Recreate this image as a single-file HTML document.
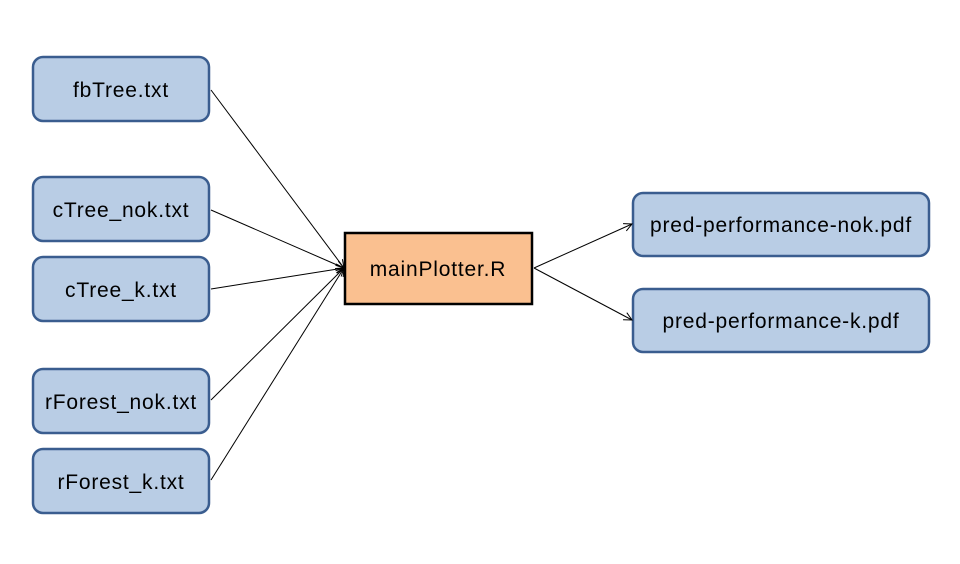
<!DOCTYPE html>
<html><head><style>body{margin:0;background:#fff}svg{display:block}</style></head><body>
<svg width="960" height="564" xmlns="http://www.w3.org/2000/svg" font-family="Liberation Sans, sans-serif" font-size="21" letter-spacing="0.8">
<defs><marker id="a" markerWidth="10" markerHeight="10" refX="9" refY="5" orient="auto" markerUnits="userSpaceOnUse"><path d="M1,1 L9,5 L1,9" fill="none" stroke="#000" stroke-width="1"/></marker></defs>
<g fill="#b9cde5" stroke="#3a5d8f" stroke-width="2.5">
<rect x="33" y="57" width="176" height="64" rx="10"/>
<rect x="33" y="177" width="176" height="64" rx="10"/>
<rect x="33" y="257" width="176" height="64" rx="10"/>
<rect x="33" y="369" width="176" height="64" rx="10"/>
<rect x="33" y="449" width="176" height="64" rx="10"/>
<rect x="633" y="193" width="296" height="63" rx="10"/>
<rect x="633" y="289" width="296" height="63" rx="10"/>
</g>
<rect x="345" y="233" width="187" height="71" fill="#fac090" stroke="#000" stroke-width="2.5"/>
<g stroke="#000" stroke-width="1" marker-end="url(#a)">
<line x1="211" y1="90" x2="344" y2="268"/>
<line x1="211" y1="210" x2="344" y2="268"/>
<line x1="211" y1="289" x2="344" y2="268"/>
<line x1="211" y1="400" x2="344" y2="268"/>
<line x1="211" y1="480" x2="344" y2="268"/>
<line x1="534" y1="268" x2="632" y2="224"/>
<line x1="534" y1="268" x2="632" y2="320"/>
</g>
<g text-anchor="middle" fill="#000">
<text x="121" y="97">fbTree.txt</text>
<text x="121" y="217">cTree_nok.txt</text>
<text x="121" y="297">cTree_k.txt</text>
<text x="121" y="409">rForest_nok.txt</text>
<text x="121" y="489">rForest_k.txt</text>
<text x="438" y="276">mainPlotter.R</text>
<text x="781" y="232">pred-performance-nok.pdf</text>
<text x="781" y="328">pred-performance-k.pdf</text>
</g>
</svg>
</body></html>
